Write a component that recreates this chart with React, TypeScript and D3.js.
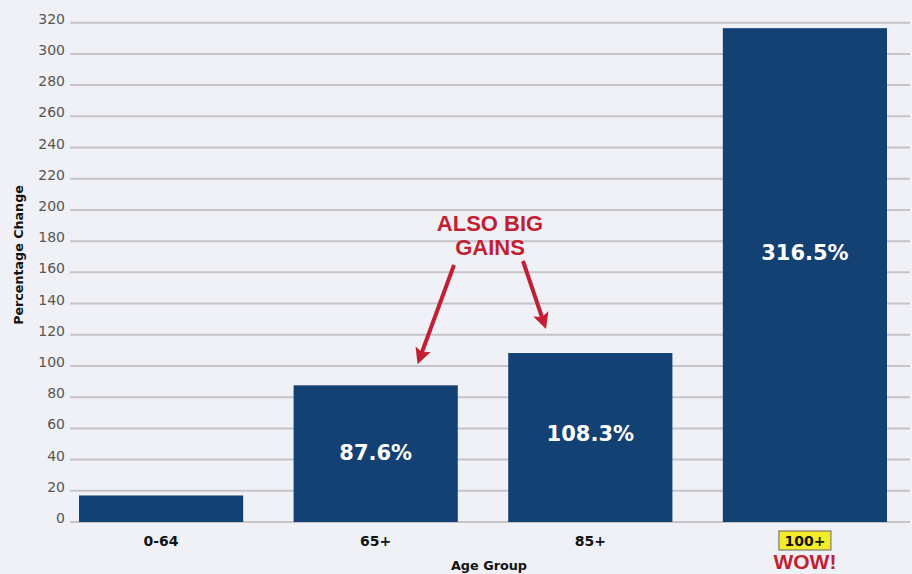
import React from "react";
import * as d3 from "d3";

const categories = ["0-64", "65+", "85+", "100+"];
const values = [17, 87.6, 108.3, 316.5];
const valueLabels = ["", "87.6%", "108.3%", "316.5%"];
const yTicks = [0, 20, 40, 60, 80, 100, 120, 140, 160, 180, 200, 220, 240, 260, 280, 300, 320];
const annotationLines = ["ALSO BIG", "GAINS"];

const W = 912;
const H = 574;
const BG = "#f0f1f6";
const BAR = "#144173";
const RED = "#c21f32";
const GRID = "#c6c4c9";

function Arrow({ x1, y1, x2, y2 }: { x1: number; y1: number; x2: number; y2: number }) {
  const ang = Math.atan2(y2 - y1, x2 - x1);
  const headLen = 16;
  const headW = 8;
  const bx = x2 - headLen * Math.cos(ang);
  const by = y2 - headLen * Math.sin(ang);
  const px = -Math.sin(ang);
  const py = Math.cos(ang);
  const pts = [
    [x2, y2],
    [bx + px * headW, by + py * headW],
    [bx + (x2 - bx) * 0.2, by + (y2 - by) * 0.2],
    [bx - px * headW, by - py * headW],
  ];
  return (
    <g>
      <line x1={x1} y1={y1} x2={bx + (x2 - bx) * 0.3} y2={by + (y2 - by) * 0.3} stroke={RED} strokeWidth={4} />
      <polygon points={pts.map((p) => p.join(",")).join(" ")} fill={RED} />
    </g>
  );
}

export default function App() {
  const x = d3.scaleBand<string>().domain(categories).range([79, 887]).paddingInner(0.235).paddingOuter(0);
  const y = d3.scaleLinear().domain([0, 320]).range([522, 22.7]);
  const bw = x.bandwidth();

  const lx = x("65+")! + bw * 0.755;
  const rx = x("85+")! + bw * 0.23;
  const labelY = (i: number) => (i === 3 ? 260 : i === 2 ? y(values[i]) + 88 : y(values[i]) + 75);

  return (
    <svg width={W} height={H} style={{ position: "absolute", left: 0, top: 0 }}>
      <rect x={0} y={0} width={W} height={H} fill={BG} />
      {yTicks.map((t) => (
        <g key={t}>
          <line x1={70} x2={910} y1={y(t)} y2={y(t)} stroke={GRID} strokeWidth={2} />
          <text x={65} y={y(t) + 1} textAnchor="end" fontFamily="DejaVu Sans" fontSize={14} fill="#555">
            {t}
          </text>
        </g>
      ))}
      {categories.map((c, i) => (
        <rect key={c} x={x(c)} y={y(values[i])} width={bw} height={y(0) - y(values[i])} fill={BAR} />
      ))}
      {categories.map((c, i) =>
        valueLabels[i] ? (
          <text
            key={"v" + c}
            x={x(c)! + bw / 2}
            y={labelY(i)}
            textAnchor="middle"
            fontFamily="DejaVu Sans"
            fontWeight="bold"
            fontSize={21}
            fill="#fff"
          >
            {valueLabels[i]}
          </text>
        ) : null
      )}
      {categories.map((c, i) => {
        const cx = x(c)! + bw / 2;
        if (c === "100+") {
          return (
            <g key={"x" + c}>
              <rect x={cx - 26} y={531} width={52} height={19} fill="#f4ec2b" stroke="#666" strokeWidth={1} />
              <text x={cx} y={546} textAnchor="middle" fontFamily="DejaVu Sans" fontWeight="bold" fontSize={14} fill="#111">
                {c}
              </text>
              <text x={cx} y={569} textAnchor="middle" fontFamily="Liberation Sans" fontWeight="bold" fontSize={21} fill={RED}>
                WOW!
              </text>
            </g>
          );
        }
        return (
          <text key={"x" + c} x={cx} y={546} textAnchor="middle" fontFamily="DejaVu Sans" fontWeight="bold" fontSize={14} fill="#111">
            {c}
          </text>
        );
      })}
      <text x={489} y={570} textAnchor="middle" fontFamily="DejaVu Sans" fontWeight="bold" fontSize={12.8} fill="#111">
        Age Group
      </text>
      <text
        transform={`translate(23,255) rotate(-90)`}
        textAnchor="middle"
        fontFamily="DejaVu Sans"
        fontWeight="bold"
        fontSize={12.7}
        fill="#111"
      >
        Percentage Change
      </text>
      {annotationLines.map((l, i) => (
        <text key={l} x={490} y={231 + i * 24} textAnchor="middle" fontFamily="Liberation Sans" fontWeight="bold" fontSize={22} fill={RED}>
          {l}
        </text>
      ))}
      <Arrow x1={454} y1={265} x2={lx} y2={y(values[1]) - 21} />
      <Arrow x1={523} y1={261} x2={rx} y2={y(values[2]) - 24} />
    </svg>
  );
}
